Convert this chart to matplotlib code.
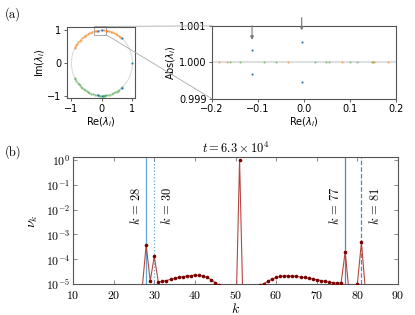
import numpy as np
import matplotlib
matplotlib.use("Agg")
import matplotlib.pyplot as plt
from matplotlib.patches import Rectangle, ConnectionPatch

plt.rcParams["mathtext.fontset"] = "cm"

# ---- eigenvalue data (angles in degrees on the unit circle) ----
orange_deg = [153, 150, 147, 144, 141, 137, 134, 131, 127, 124, 121, 118, 114, 111, 108, 104,
              100.7, 99.6, 92.0, 85.2, 81.4, 81.3, 79.5, 76, 73, 70, 66, 63, 60, 57, 54, 51]
green_deg = [-153, -150, -147, -143, -140, -137, -133, -130, -127, -124, -120, -117, -114, -111,
             -107, -104, -99.3, -98.0, -95.0, -93.5, -88.6, -87.3, -86.9, -84.3, -83.4, -81.5,
             -78, -75, -71, -68, -64, -61, -58, -55, -51, -48]
blue_re = [1.0, 0.65, 0.65, -0.113, -0.113, -0.005, -0.005]
blue_im = [0.0, 0.76, -0.76, 0.99, -0.99, 1.0, -1.0]
zoom_blue_re = [-0.113, -0.113, -0.005, -0.005]
zoom_blue_abs = [1.00033, 0.99967, 1.00055, 0.99945]
arrow_re = [-0.113, -0.005]

# ---- spectrum nu_k ----
k_vals = [26, 27, 28, 29, 30, 31, 32, 33, 34, 35, 36, 37, 38, 39, 40, 41, 42, 43, 44, 45, 46,
          47, 48, 49, 50, 51, 52, 53, 54, 55, 56, 57, 58, 59, 60, 61, 62, 63, 64, 65, 66, 67,
          68, 69, 70, 71, 72, 73, 74, 75, 76, 77, 78, 79, 80, 81, 82, 83]
nu_vals = [1e-7, 6e-6, 3.8e-4, 1.35e-5, 1.3e-4, 1.2e-5, 1.3e-5, 1.4e-5, 1.55e-5, 1.7e-5,
           1.85e-5, 2.0e-5, 2.1e-5, 2.2e-5, 2.3e-5, 2.25e-5, 2.1e-5, 1.85e-5, 1.5e-5, 1.15e-5,
           9e-6, 1e-7, 1e-7, 1e-7, 1e-7, 1.0, 1e-7, 1e-7, 1e-7, 1e-7, 9e-6, 1.05e-5, 1.3e-5,
           1.6e-5, 1.85e-5, 2.05e-5, 2.15e-5, 2.15e-5, 2.1e-5, 2.05e-5, 1.95e-5, 1.85e-5, 1.75e-5,
           1.6e-5, 1.5e-5, 1.4e-5, 1.3e-5, 1.2e-5, 1.15e-5, 1.1e-5, 1.15e-5, 2.0e-4, 4e-6, 5e-6,
           1.02e-5, 4.8e-4, 5e-6, 1e-7]
k_marked = [28, 30, 77, 81]
k_styles = [("-", "#5fa8dc"), (":", "#5fa8dc"), ("-", "#4a8cc4"), ("--", "#4a8cc4")]

fig = plt.figure(figsize=(4.15, 3.15), dpi=100)

# ---- (a) left: unit circle ----
ax1 = fig.add_axes([0.161, 0.689, 0.164, 0.225])
th = np.linspace(0, 2 * np.pi, 400)
ax1.plot(np.cos(th), np.sin(th), color="#dcdcdc", lw=0.8, zorder=1)
oa = np.radians(orange_deg)
ga = np.radians(green_deg)
ax1.plot(np.cos(oa), np.sin(oa), "o", ms=1.6, color="#ff7f0e", alpha=0.6, mec="none")
ax1.plot(np.cos(ga), np.sin(ga), "o", ms=1.6, color="#2ca02c", alpha=0.5, mec="none")
ax1.plot(blue_re, blue_im, "o", ms=1.5, color="#1f77b4", mec="none")
ax1.set_xlim(-1.15, 1.08)
ax1.set_ylim(-1.07, 1.1)
ax1.set_xticks([-1, 0, 1])
ax1.set_yticks([-1, 0, 1])
ax1.tick_params(labelsize=7, length=2.5, width=0.6, pad=1.5, color="#444444")
ax1.set_xlabel(r"Re($\lambda_i$)", fontsize=7, labelpad=1, math_fontfamily="dejavusans")
ax1.set_ylabel(r"Im($\lambda_i$)", fontsize=7, labelpad=0, math_fontfamily="dejavusans")
for s in ax1.spines.values():
    s.set_color("#555555")
    s.set_linewidth(0.8)
rect = Rectangle((-0.25, 0.87), 0.38, 0.25, fill=False, ec="#999999", lw=0.6, clip_on=False)
ax1.add_patch(rect)

# ---- (a) right: zoom on |lambda| ----
ax2 = fig.add_axes([0.511, 0.686, 0.443, 0.232])
ax2.axhline(1.0, color="#e0e0e0", lw=1.5, zorder=1)
ocos = np.cos(oa)
gcos = np.cos(ga)
ax2.plot(ocos[np.abs(ocos) < 0.2], np.ones(np.sum(np.abs(ocos) < 0.2)), "o", ms=1.5,
         color="#ff7f0e", alpha=0.6, mec="none")
ax2.plot(gcos[np.abs(gcos) < 0.2], np.ones(np.sum(np.abs(gcos) < 0.2)), "o", ms=1.5,
         color="#2ca02c", alpha=0.5, mec="none")
ax2.plot(zoom_blue_re, zoom_blue_abs, "o", ms=1.5, color="#1f77b4", mec="none")
ax2.set_xlim(-0.2, 0.2)
ax2.set_ylim(0.999, 1.001)
ax2.set_xticks([-0.2, -0.1, 0.0, 0.1, 0.2])
ax2.set_yticks([0.999, 1.0, 1.001])
ax2.set_yticklabels(["0.999", "1.000", "1.001"])
ax2.tick_params(labelsize=7, length=2.5, width=0.6, pad=1.5, color="#444444")
ax2.set_xlabel(r"Re($\lambda_i$)", fontsize=7, labelpad=1, math_fontfamily="dejavusans")
ax2.set_ylabel(r"Abs($\lambda_i$)", fontsize=7, labelpad=1, math_fontfamily="dejavusans")
for s in ax2.spines.values():
    s.set_color("#555555")
    s.set_linewidth(0.8)
for x, (y0, y1) in zip(arrow_re, [(1.04, 0.77), (1.15, 0.9)]):
    ax2.annotate("", xy=(x, y1), xytext=(x, y0),
                 xycoords=("data", "axes fraction"), textcoords=("data", "axes fraction"),
                 arrowprops=dict(arrowstyle="-|>", color="#777777", lw=0.8,
                                 mutation_scale=5), annotation_clip=False)

for ya, yb in [(1.12, 1.0), (0.87, 0.0)]:
    con = ConnectionPatch(xyA=(0.13, ya), coordsA=ax1.transData,
                          xyB=(0.0, yb), coordsB=ax2.transAxes,
                          color="#aaaaaa", lw=0.6)
    fig.add_artist(con)

fig.text(0.012, 0.945, "(a)", fontsize=9, family="cmr10")

# ---- (b) spectrum ----
ax3 = fig.add_axes([0.176, 0.098, 0.783, 0.403])
for k, (ls, c) in zip(k_marked, k_styles):
    ax3.axvline(k, color=c, ls=ls, lw=0.9, zorder=1)
ax3.plot(k_vals, nu_vals, "-", color="#b5473f", lw=0.8, zorder=2)
ax3.plot(k_vals, nu_vals, "o", color="#7a0000", ms=2.6, mec="none", zorder=3)
ax3.set_yscale("log")
ax3.set_xlim(10, 90)
ax3.set_ylim(1e-5, 1.3)
ax3.set_xticks(range(10, 91, 10), [f"${v}$" for v in range(10, 91, 10)])
yt = [1e-5, 1e-4, 1e-3, 1e-2, 1e-1, 1]
ax3.set_yticks(yt, [r"$10^{-5}$", r"$10^{-4}$", r"$10^{-3}$", r"$10^{-2}$", r"$10^{-1}$",
                    r"$10^{0}$"])
ax3.yaxis.set_minor_locator(matplotlib.ticker.NullLocator())
ax3.tick_params(direction="in", top=True, right=True, labelsize=8.5, length=3, width=0.6,
                color="#777777", pad=2)
ax3.tick_params(axis="x", pad=3.5)
for s in ax3.spines.values():
    s.set_color("#555555")
    s.set_linewidth(0.8)
ax3.set_xlabel(r"$k$", fontsize=10, labelpad=0)
ax3.set_ylabel(r"$\nu_k$", fontsize=10, labelpad=4)
ax3.set_title(r"$t = 6.3 \times 10^4$", fontsize=9, pad=3)
for k, x, ha in zip(k_marked, [27.2, 31.5, 76.1, 82.5], ["right", "left", "right", "left"]):
    ax3.text(x, 1.4e-2, rf"$k\,=\,{k}$", rotation=90, ha=ha, va="center", fontsize=9)

fig.text(0.012, 0.505, "(b)", fontsize=9, family="cmr10")

fig.savefig("out.png", dpi=100)
